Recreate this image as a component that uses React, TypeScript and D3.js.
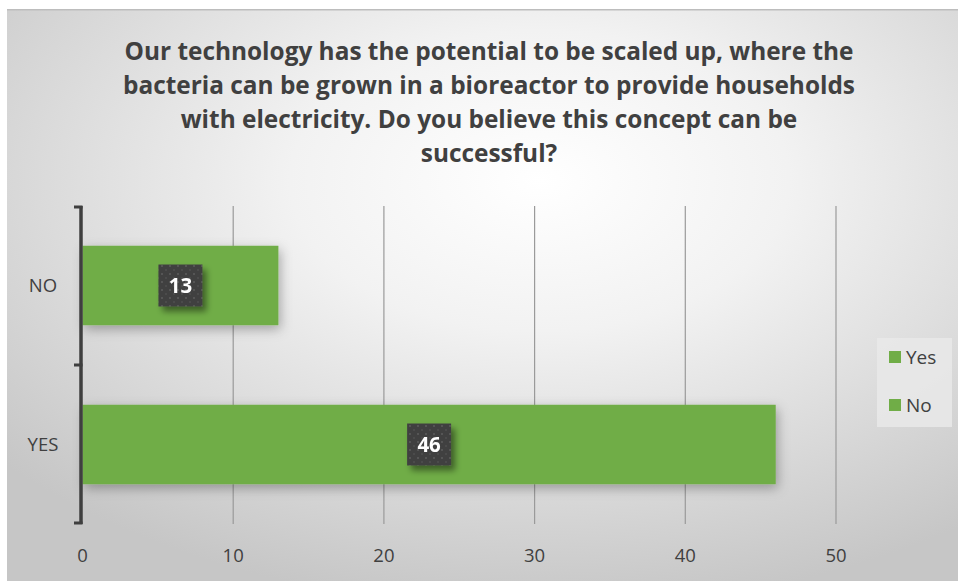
import React from "react";
import * as d3 from "d3";

const categories = ["NO", "YES"];
const responses = [13, 46];
const xTicks = [0, 10, 20, 30, 40, 50];
const legendItems = ["Yes", "No"];
const titleLines = [
  "Our technology has the potential to be scaled up, where the",
  "bacteria can be grown in a bioreactor to provide households",
  "with electricity. Do you believe this concept can be",
  "successful?",
];

const W = 958;
const H = 581;
const GREEN = "#70AD47";
const FONT = "'Open Sans', Lato, sans-serif";

export default function App() {
  const x = d3.scaleLinear().domain([0, 50]).range([82.5, 836]);
  const y = d3.scaleBand().domain(categories).range([206, 524]).paddingInner(0.5).paddingOuter(0.25);
  const plotTop = 206;
  const plotBottom = 524;
  const axisX = 81;

  return (
    <div style={{ position: "absolute", left: 0, top: 0 }}>
      <svg width={W} height={H} style={{ display: "block" }}>
        <defs>
          <radialGradient id="bg" cx="0.56" cy="0.3" r="0.75">
            <stop offset="0" stopColor="#ffffff" />
            <stop offset="0.35" stopColor="#f2f2f2" />
            <stop offset="1" stopColor="#c6c6c6" />
          </radialGradient>
          <filter id="barShadow" x="-10%" y="-40%" width="130%" height="200%">
            <feDropShadow dx="2" dy="4" stdDeviation="6" floodColor="#000" floodOpacity="0.3" />
          </filter>
          <filter id="labelShadow" x="-30%" y="-30%" width="180%" height="180%">
            <feDropShadow dx="4" dy="5" stdDeviation="3" floodColor="#000" floodOpacity="0.45" />
          </filter>
          <pattern id="dots" width="8" height="8" patternUnits="userSpaceOnUse">
            <rect width="8" height="8" fill="#404040" />
            <circle cx="2" cy="2" r="1" fill="#5a5a5a" />
            <circle cx="6" cy="6" r="1" fill="#4e4e4e" />
          </pattern>
        </defs>

        <rect x={0} y={0} width={W} height={H} fill="#ffffff" />
        <rect x={7} y={9} width={W - 7} height={H - 9} fill="url(#bg)" />
        <rect x={7} y={9} width={W - 7} height={1.5} fill="#bdbdbd" />

        {titleLines.map((t, i) => (
          <text
            key={i}
            x={489}
            y={60 + i * 34}
            textAnchor="middle"
            fontFamily={FONT}
            fontWeight={700}
            fontSize={24.4}
            fill="#404040"
          >
            {t}
          </text>
        ))}

        {xTicks.filter((t) => t > 0).map((t) => (
          <line key={t} x1={x(t)} x2={x(t)} y1={plotTop} y2={plotBottom} stroke="#9a9a9a" strokeWidth={1.2} />
        ))}

        {categories.map((c, i) => (
          <rect
            key={c}
            x={x(0)}
            y={y(c)!}
            width={x(responses[i]) - x(0)}
            height={y.bandwidth()}
            fill={GREEN}
            filter="url(#barShadow)"
          />
        ))}

        {/* category axis with bracket-style ticks */}
        <line x1={axisX} x2={axisX} y1={plotTop} y2={plotBottom} stroke="#3f3f3f" strokeWidth={3.5} />
        {[plotTop + 1, (plotTop + plotBottom) / 2, plotBottom - 1].map((ty, i) => (
          <line key={i} x1={74} x2={axisX + 1.5} y1={ty} y2={ty} stroke="#3f3f3f" strokeWidth={3} />
        ))}

        {categories.map((c) => (
          <text
            key={c}
            x={43}
            y={y(c)! + y.bandwidth() / 2}
            dy="0.35em"
            textAnchor="middle"
            fontFamily={FONT}
            fontSize={18.5}
            fill="#404040"
          >
            {c}
          </text>
        ))}

        {xTicks.map((t) => (
          <text
            key={t}
            x={x(t)}
            y={556}
            dy="0.35em"
            textAnchor="middle"
            fontFamily={FONT}
            fontSize={18.5}
            fill="#404040"
          >
            {t}
          </text>
        ))}

        {categories.map((c, i) => {
          const cx = (x(0) + x(responses[i])) / 2;
          const cy = y(c)! + y.bandwidth() / 2;
          return (
            <g key={c} filter="url(#labelShadow)">
              <rect x={cx - 22} y={cy - 21} width={44} height={42} fill="url(#dots)" />
              <text
                x={cx}
                y={cy}
                dy="0.36em"
                textAnchor="middle"
                fontFamily={FONT}
                fontWeight={700}
                fontSize={20.5}
                fill="#ffffff"
              >
                {responses[i]}
              </text>
            </g>
          );
        })}

        <rect x={877} y={338} width={75} height={89} fill="#e9e9e9" opacity={0.85} />
        {legendItems.map((name, i) => (
          <g key={name} transform={`translate(889, ${357 + i * 48})`}>
            <rect x={0} y={-6} width={12} height={12} fill={GREEN} />
            <text x={17} y={0} dy="0.36em" fontFamily={FONT} fontSize={19} fill="#404040">
              {name}
            </text>
          </g>
        ))}
      </svg>
    </div>
  );
}
